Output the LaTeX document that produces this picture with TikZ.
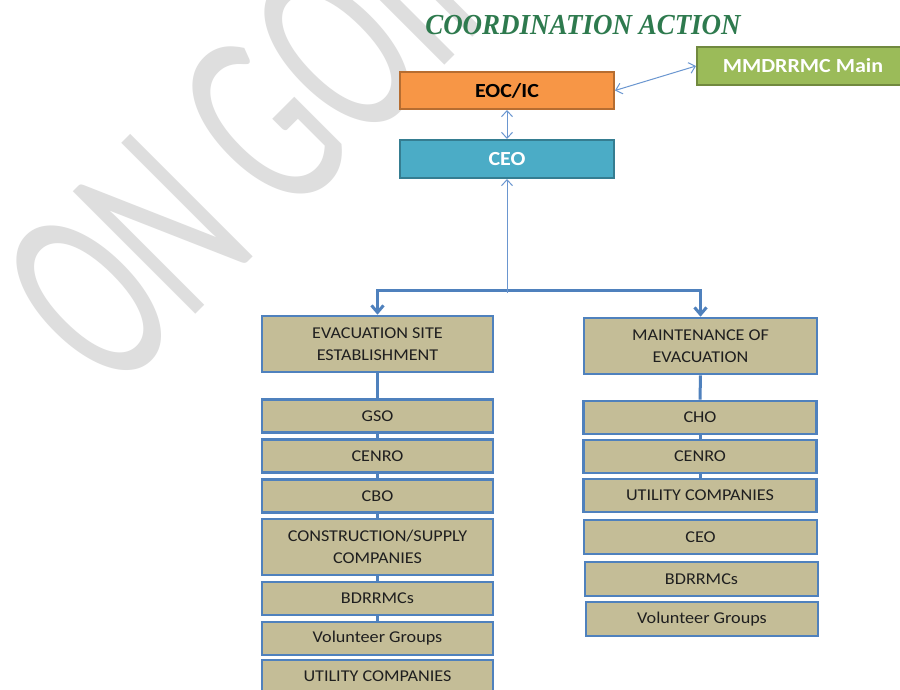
\documentclass[tikz,border=0pt]{standalone}
\usepackage{fontspec}
\setmainfont{Carlito}[FakeStretch=1.1]
\newfontfamily\wmfont{Carlito}
\newfontfamily\titlefont{Liberation Serif}
\usetikzlibrary{arrows.meta}
\definecolor{titlegreen}{HTML}{2E7A4E}
\definecolor{orangefill}{HTML}{F79646}
\definecolor{orangeline}{HTML}{B66D31}
\definecolor{greenfill}{HTML}{9BBB59}
\definecolor{greenline}{HTML}{71893F}
\definecolor{bluefill}{HTML}{4BACC6}
\definecolor{blueline}{HTML}{357D91}
\definecolor{tanfill}{HTML}{C4BD97}
\definecolor{boxblue}{HTML}{4F81BD}
\definecolor{thinblue}{HTML}{6A96D0}
\definecolor{wmgray}{HTML}{DEDEDE}
\begin{document}
\begin{tikzpicture}[x=1pt,y=-1pt,
  topbox/.style={draw, line width=2pt, minimum width=214pt, minimum height=37pt, inner sep=0pt,
    font=\fontsize{20}{24}\selectfont\bfseries},
  itembox/.style={draw=boxblue, fill=tanfill, line width=2.6pt, minimum width=231pt,
    minimum height=33pt, inner sep=0pt, align=center,
    font=\fontsize{16.5}{22.5}\selectfont, text=black!88},
  thinarrow/.style={draw=thinblue, line width=1pt,
    {Straight Barb[length=6pt,width=11pt]}-{Straight Barb[length=6pt,width=11pt]}},
  thinline/.style={draw=thinblue, line width=1pt},
  thickarrow/.style={draw=boxblue, line width=3pt, -{Straight Barb[length=7pt,width=12pt]}},
  colline/.style={draw=boxblue, line width=3pt}
]
\clip (0,0) rectangle (900,690);
\fill[white] (0,0) rectangle (900,690);

% watermark
\node[anchor=base west, rotate=45, inner sep=0pt, text=wmgray,
  font=\wmfont\fontsize{270}{270}\selectfont] (wm) at (112,398) {\scalebox{0.6}[1]{ON GOING}};

% title
\node[font=\titlefont\fontsize{29}{32}\selectfont\bfseries\itshape, text=titlegreen, inner sep=0pt]
  (title) at (583,25) {\scalebox{0.93}[1]{COORDINATION ACTION}};

% top boxes
\node[topbox, draw=orangeline, fill=orangefill, text=black] (eoc) at (507,90.5) {EOC/IC};
\node[topbox, draw=blueline, fill=bluefill, text=white, minimum height=38pt] (ceo) at (507,159) {CEO};
\node[topbox, draw=greenline, fill=greenfill, text=white, minimum width=212pt, minimum height=38pt]
  (mmd) at (803,66) {MMDRRMC Main};

\draw[thinarrow] (eoc.south) -- (ceo.north);
\draw[thinarrow] (eoc.east) -- (mmd.west);

% left column
\node[itembox, minimum height=56pt] (h1) at (377.5,344) {EVACUATION SITE\\ESTABLISHMENT};
\node[itembox] (l1) at (377.5,416) {GSO};
\node[itembox] (l2) at (377.5,456) {CENRO};
\node[itembox] (l3) at (377.5,496) {CBO};
\node[itembox, minimum height=56pt] (l4) at (377.5,547) {CONSTRUCTION/SUPPLY\\COMPANIES};
\node[itembox] (l5) at (377.5,598.5) {BDRRMCs};
\node[itembox] (l6) at (377.5,638.5) {Volunteer Groups};
\node[itembox] (l7) at (377.5,676.5) {UTILITY COMPANIES};

% right column
\node[itembox, minimum width=233pt, minimum height=56pt] (h2) at (700.5,346) {MAINTENANCE OF\\EVACUATION};
\node[itembox, minimum width=233pt] (r1) at (700,417.5) {CHO};
\node[itembox, minimum width=233pt] (r2) at (700,456.5) {CENRO};
\node[itembox, minimum width=233pt] (r3) at (700,495.5) {UTILITY COMPANIES};
\node[itembox, minimum width=233pt, minimum height=34pt] (r4) at (700.5,537) {CEO};
\node[itembox, minimum width=233pt, minimum height=34pt] (r5) at (701.5,579) {BDRRMCs};
\node[itembox, minimum width=232pt, minimum height=34pt] (r6) at (702,619) {Volunteer Groups};

% column connectors
\draw[colline] (h1.south) -- (l1.north);
\draw[colline] (l1.south) -- (l2.north);
\draw[colline] (l2.south) -- (l3.north);
\draw[colline] (l3.south) -- (l4.north);
\draw[colline] (l4.south) -- (l5.north);
\draw[colline] (l5.south) -- (l6.north);
\draw[colline] (h2.south) -- (r1.north);
\draw[colline] (r1.south) -- (r2.north);
\draw[colline] (r2.south) -- (r3.north);

% branch
\coordinate (j) at (507,290);
\coordinate (jend) at (507,293);
\draw[thickarrow] (j) -| (h1.north);
\draw[thickarrow] (j) -| (h2.north);
\draw[thinline, -{Straight Barb[length=6pt,width=11pt]}] (jend) -- (ceo.south);
\end{tikzpicture}
\end{document}
